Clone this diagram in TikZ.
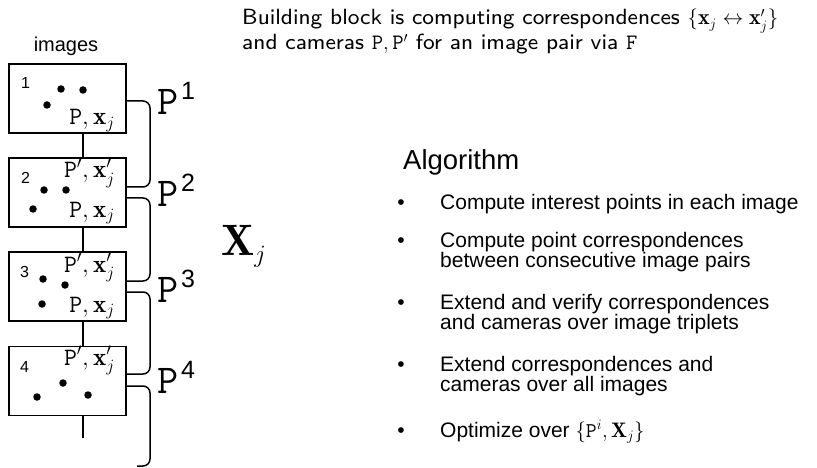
\documentclass[tikz,border=0pt]{standalone}
\usepackage{fontspec}
\newfontfamily\arial{Liberation Sans}
\newfontfamily\topfont{lmsans8-regular}[Extension=.otf]
\usetikzlibrary{calc}
\begin{document}
\begin{tikzpicture}[x=1pt,y=-1pt,
  frame/.style={draw,line width=1.5pt,minimum width=117pt,minimum height=69pt,inner sep=0pt},
  link/.style={line width=1.5pt},
  brace/.style={line width=1.5pt,rounded corners=7pt},
  pt/.style={fill,circle,inner sep=0pt,minimum size=7.5pt},
  num/.style={font=\arial\fontsize{16}{16}\selectfont,anchor=base west,inner sep=0pt},
  lab/.style={font=\fontsize{25}{25}\selectfont,anchor=base east,inner sep=0pt},
  cam/.style={font=\ttfamily\fontsize{41}{41}\selectfont,anchor=base west,inner sep=0pt},
  sup/.style={font=\arial\fontsize{25}{25}\selectfont,anchor=base west,inner sep=0pt},
  topline/.style={font=\topfont\fontsize{22}{22}\selectfont,anchor=base west,inner sep=0pt},
  item/.style={font=\arial\fontsize{21}{20}\selectfont,anchor=base west,inner sep=0pt,align=left},
  bul/.style={font=\arial\fontsize{21}{20}\selectfont,anchor=base,inner sep=0pt}]
\useasboundingbox (0,0) rectangle (817,468);

% header texts
\node[font=\arial\fontsize{20}{20}\selectfont,anchor=base,inner sep=0pt] (hdr) at (66,52) {images};
\node[topline] (top1) at (242,25)
  {Building block is computing correspondences $\{\mathbf{x}_j\leftrightarrow\mathbf{x}'_j\}$};
\node[topline] (top2) at (242,50)
  {and cameras $\mathtt{P},\mathtt{P}'$ for an image pair via $\mathtt{F}$};

% image frames
\node[frame] (b1) at (67.5,98.5) {};
\node[frame] (b2) at (67.5,192.5) {};
\node[frame] (b3) at (67.5,286.5) {};
\node[frame] (b4) at (67.5,381) {};

% spine through the frames
\coordinate (spine) at (83,0);
\coordinate (tail) at (83,438);
\draw[link] (b1.south -| spine) -- (b2.north -| spine);
\draw[link] (b2.south -| spine) -- (b3.north -| spine);
\draw[link] (b3.south -| spine) -- (b4.north -| spine);
\draw[link] (b4.south -| spine) -- (tail);

% frame 1
\node[num] (n1) at (21,89) {1};
\node[pt] (d11) at (61,89) {};
\node[pt] (d12) at (83,90) {};
\node[pt] (d13) at (47,105) {};
\node[lab] (l1) at (115,125) {$\mathtt{P},\mathbf{x}_j$};

% frame 2
\node[num] (n2) at (21,183) {2};
\node[lab] (u2) at (115,178) {$\mathtt{P}',\mathbf{x}'_j$};
\node[pt] (d21) at (44,190) {};
\node[pt] (d22) at (66,190) {};
\node[pt] (d23) at (33,209) {};
\node[lab] (l2) at (115,217) {$\mathtt{P},\mathbf{x}_j$};

% frame 3
\node[num] (n3) at (20,277) {3};
\node[lab] (u3) at (115,272) {$\mathtt{P}',\mathbf{x}'_j$};
\node[pt] (d31) at (43,279) {};
\node[pt] (d32) at (65,285) {};
\node[pt] (d33) at (42,304) {};
\node[lab] (l3) at (115,312) {$\mathtt{P},\mathbf{x}_j$};

% frame 4
\node[num] (n4) at (20,372) {4};
\node[lab] (u4) at (115,365) {$\mathtt{P}',\mathbf{x}'_j$};
\node[pt] (d41) at (63,383) {};
\node[pt] (d42) at (37,397) {};
\node[pt] (d43) at (88,395) {};

% camera brackets: each joins the lower edge of one frame to the top of the next
\coordinate (bend) at (150,0);
\coordinate (s1) at ($(b1.east)+(0,2.5)$);
\coordinate (e1) at ($(b2.east)+(0,-5.5)$);
\coordinate (s2) at ($(b2.east)+(0,5.5)$);
\coordinate (e2) at ($(b3.east)+(0,-5.5)$);
\coordinate (s3) at ($(b3.east)+(0,5.5)$);
\coordinate (e3) at ($(b4.east)+(0,-7)$);
\coordinate (s4) at ($(b4.east)+(0,5)$);
\coordinate (e4) at (137,466);
\draw[brace] (s1) -- (s1 -| bend) -- (e1 -| bend) -- (e1);
\draw[brace] (s2) -- (s2 -| bend) -- (e2 -| bend) -- (e2);
\draw[brace] (s3) -- (s3 -| bend) -- (e3 -| bend) -- (e3);
\draw[brace] (s4) -- (s4 -| bend) -- (e4 -| bend) -- (e4);

% camera labels
\node[cam] (c1) at (157,115) {P};
\node[sup] (k1) at (181,100) {1};
\node[cam] (c2) at (157,207) {P};
\node[sup] (k2) at (181,192) {2};
\node[cam] (c3) at (157,302) {P};
\node[sup] (k3) at (181,287) {3};
\node[cam] (c4) at (157,393) {P};
\node[sup] (k4) at (181,378) {4};

% 3D points
\node[font=\fontsize{44}{44}\selectfont,anchor=base west,inner sep=0pt] (X) at (221,255) {$\mathbf{X}_j$};

% algorithm
\node[font=\arial\fontsize{27.5}{27.5}\selectfont,anchor=base west,inner sep=0pt] (alg) at (403,170) {Algorithm};
\node[bul] (p1) at (401,210) {\textbullet};
\node[item] (t1) at (440,210) {Compute interest points in each image};
\node[bul] (p2) at (401,247) {\textbullet};
\node[item] (t2) at (440,267) {Compute point correspondences\\between consecutive image pairs};
\node[bul] (p3) at (401,309) {\textbullet};
\node[item] (t3) at (440,329) {Extend and verify correspondences\\and cameras over image triplets};
\node[bul] (p4) at (401,371) {\textbullet};
\node[item] (t4) at (440,391) {Extend correspondences and\\cameras over all images};
\node[bul] (p5) at (401,437) {\textbullet};
\node[item] (t5) at (440,437) {Optimize over $\{\mathtt{P}^i,\mathbf{X}_j\}$};
\end{tikzpicture}
\end{document}
